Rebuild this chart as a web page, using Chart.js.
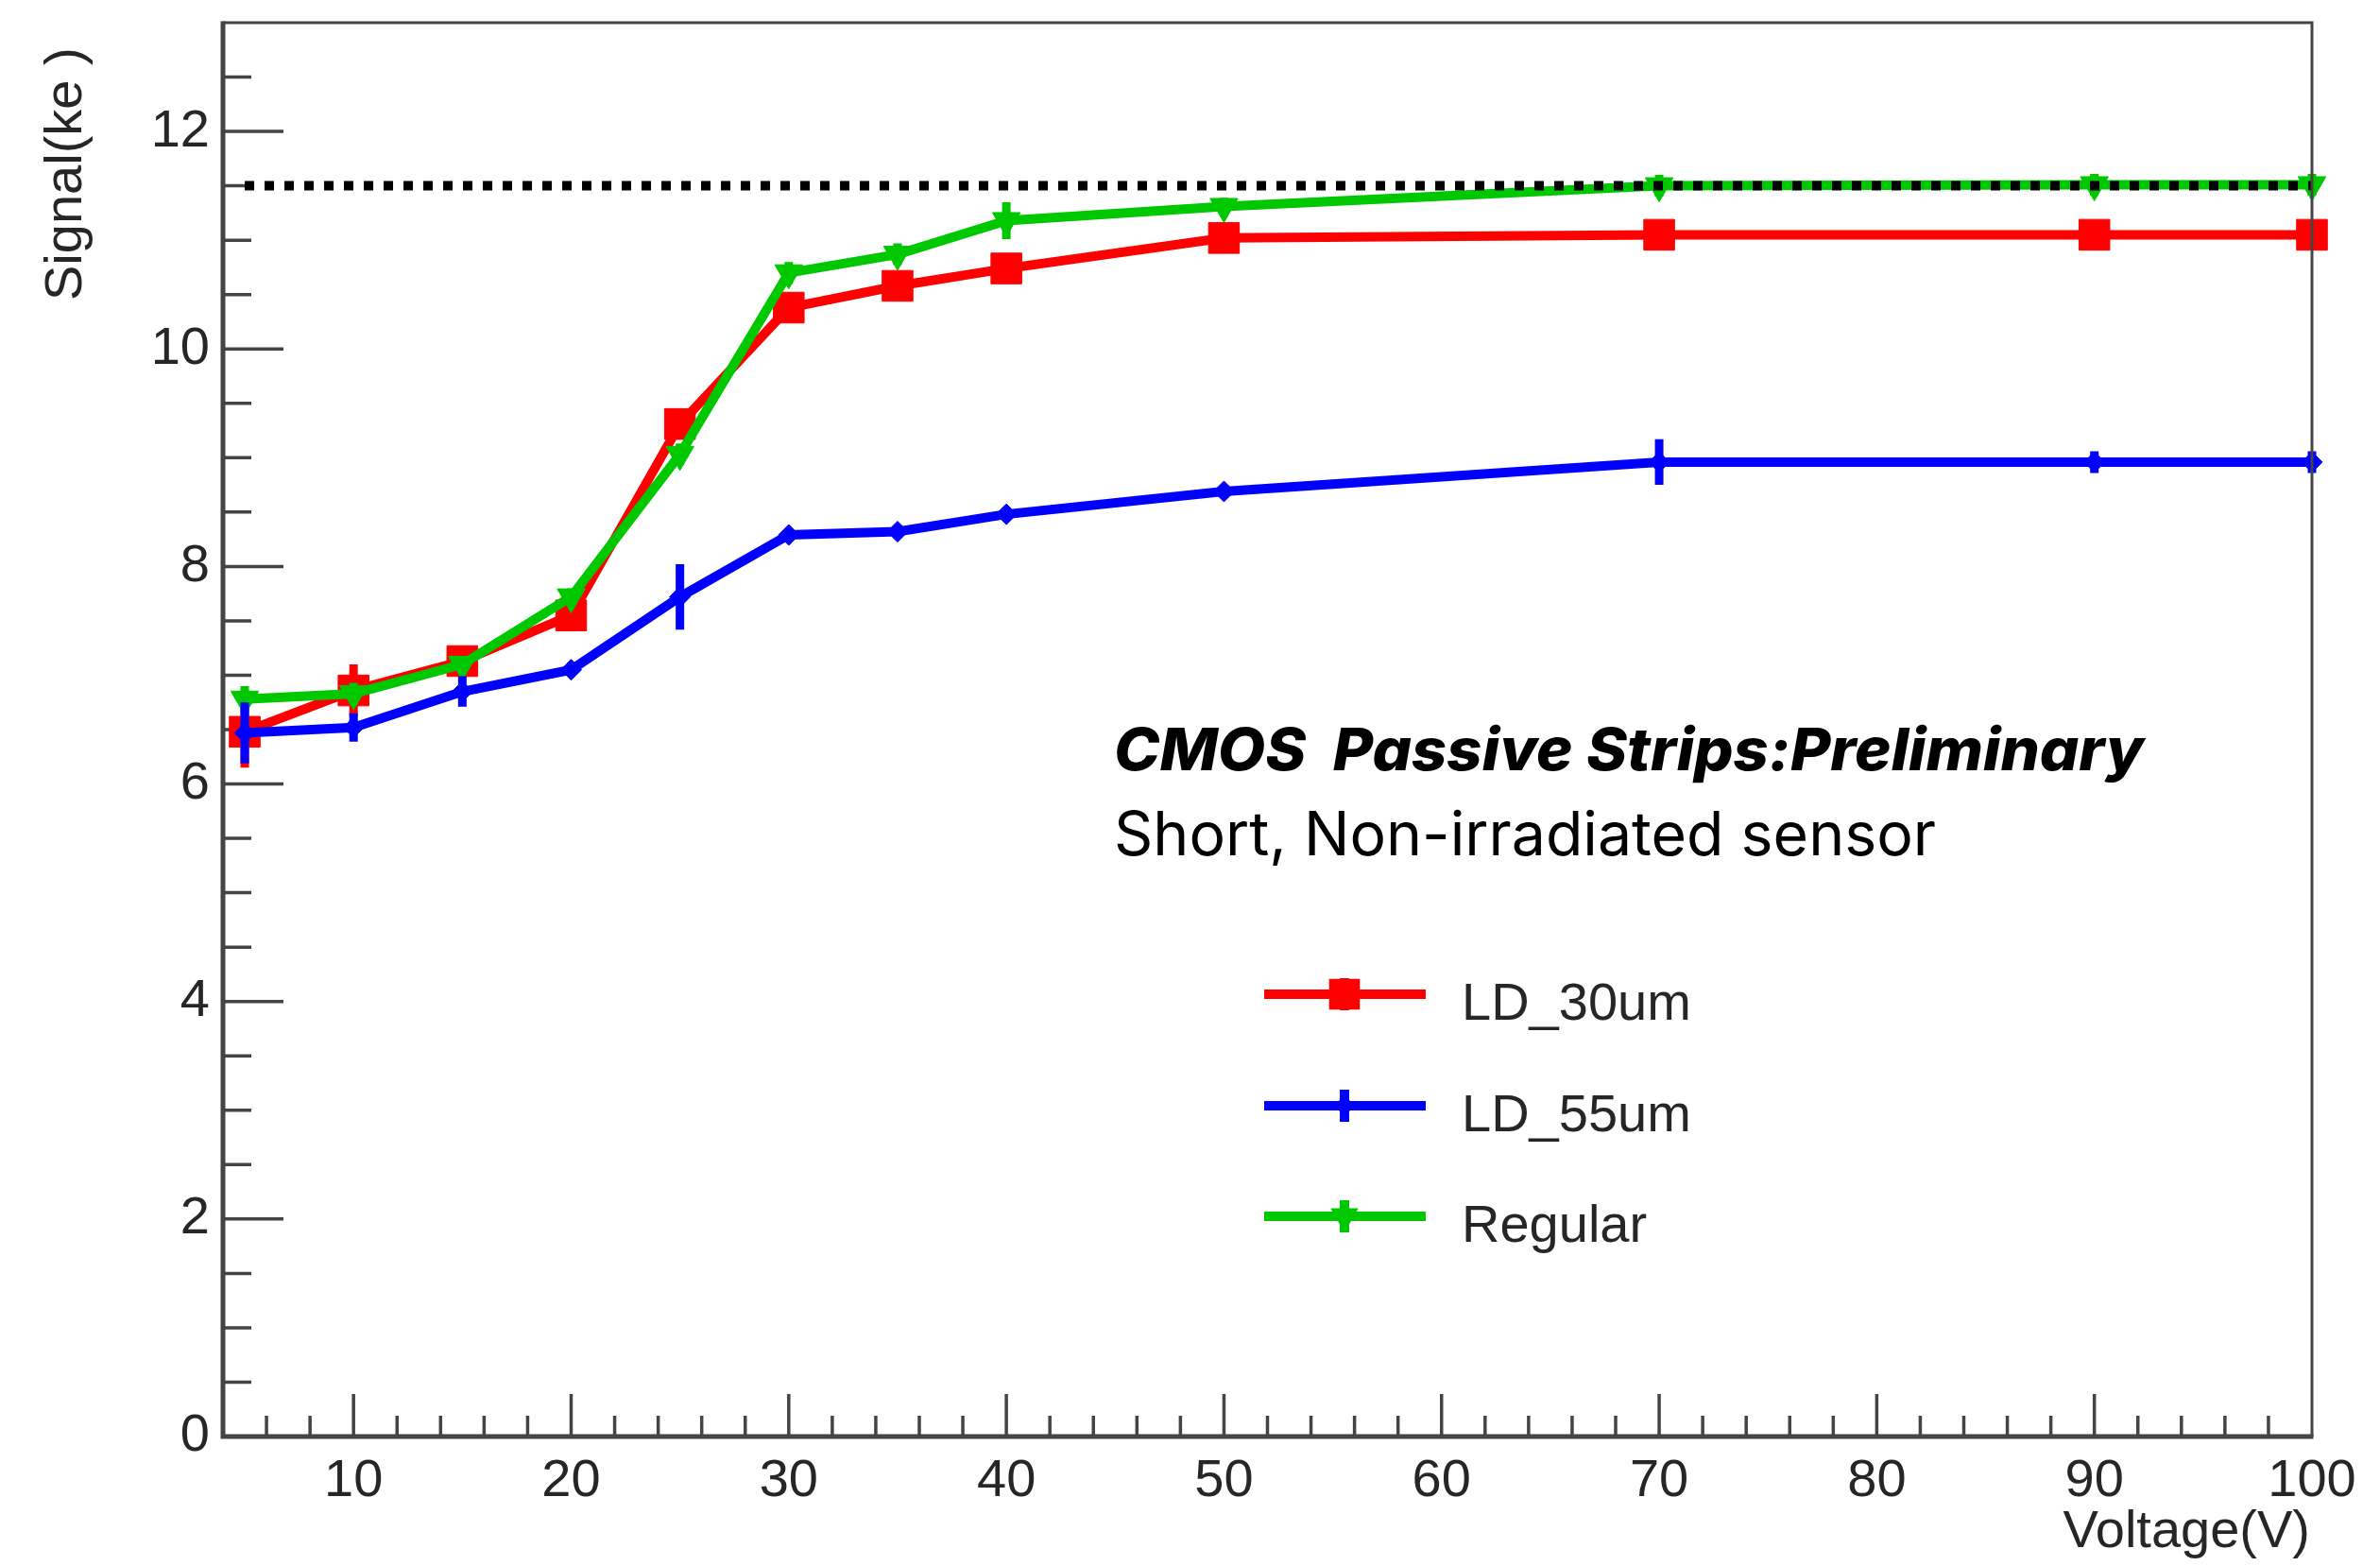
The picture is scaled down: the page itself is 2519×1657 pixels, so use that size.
<!DOCTYPE html>
<html>
<head>
<meta charset="utf-8">
<script src="https://cdn.jsdelivr.net/npm/chart.js@4.4.1/dist/chart.umd.min.js"></script>
<style>
  html, body { margin: 0; padding: 0; background: #fff; }
  #wrap { width: 2519px; height: 1657px; }
</style>
</head>
<body>
<div id="wrap"><canvas id="chart" width="2519" height="1657"></canvas></div>
<script>
// bias voltage (V)
const volts = [5, 10, 15, 20, 25, 30, 35, 40, 50, 70, 90, 100];

// signal (ke-) per sensor type, with vertical errors
const ld30 = [6.48, 6.86, 7.13, 7.55, 9.31, 10.38, 10.58, 10.74, 11.02, 11.05, 11.05, 11.05];
const ld30Err = [0.33, 0.24, 0.08, 0.1, 0.1, 0.07, 0.07, 0.07, 0.07, 0.08, 0.1, 0.08];
const ld55 = [6.47, 6.52, 6.85, 7.05, 7.72, 8.29, 8.32, 8.48, 8.69, 8.96, 8.96, 8.96];
const ld55Err = [0.28, 0.13, 0.14, 0.06, 0.3, 0.06, 0.06, 0.06, 0.06, 0.21, 0.1, 0.1];
const regular = [6.78, 6.83, 7.1, 7.72, 9.03, 10.7, 10.87, 11.18, 11.31, 11.5, 11.51, 11.51];
const regularErr = [0.12, 0.1, 0.07, 0.08, 0.1, 0.1, 0.1, 0.17, 0.08, 0.1, 0.1, 0.1];

// dotted reference level
const refX = [5, 100];
const refY = 11.5;

const seriesNames = ['LD_30um', 'LD_55um', 'Regular'];

const axisColor = '#444';
const textColor = '#262626';
const labelFont = '"Liberation Sans", Arial, Helvetica, sans-serif';

const toPoints = (ys) => volts.map((v, i) => ({ x: v, y: ys[i] }));

const red = {
  label: seriesNames[0], data: toPoints(ld30), errors: ld30Err,
  borderColor: '#ff0000', backgroundColor: '#ff0000',
  pointStyle: 'rect', pointRadius: 23, pointRotation: 0, order: 3
};
const blue = {
  label: seriesNames[1], data: toPoints(ld55), errors: ld55Err,
  borderColor: '#0000ff', backgroundColor: '#0000ff',
  pointStyle: 'rectRot', pointRadius: 11, pointRotation: 0, order: 1
};
const green = {
  label: seriesNames[2], data: toPoints(regular), errors: regularErr,
  borderColor: '#00c800', backgroundColor: '#00c800',
  pointStyle: 'triangle', pointRadius: 17, pointRotation: 180, order: 2
};
const ref = {
  label: 'ref', data: refX.map(x => ({ x: x, y: refY })),
  borderColor: '#000', borderWidth: 10, borderDash: [10, 11],
  borderCapStyle: 'butt', pointRadius: 0, order: 0
};

[red, blue, green].forEach(ds => {
  ds.borderWidth = 10;
  ds.pointBackgroundColor = ds.borderColor;
  ds.pointBorderColor = ds.borderColor;
  ds.pointBorderWidth = 1;
  ds.tension = 0;
  ds.clip = false;
});
ref.clip = false;

function marker(ctx, style, x, y, r, color) {
  ctx.fillStyle = color;
  ctx.beginPath();
  if (style === 'rect') {
    const s = r * Math.SQRT1_2;
    ctx.rect(x - s, y - s, 2 * s, 2 * s);
  } else if (style === 'rectRot') {
    ctx.moveTo(x, y - r); ctx.lineTo(x + r, y); ctx.lineTo(x, y + r); ctx.lineTo(x - r, y);
    ctx.closePath();
  } else {
    ctx.moveTo(x - r * 0.866, y - r / 2); ctx.lineTo(x + r * 0.866, y - r / 2); ctx.lineTo(x, y + r);
    ctx.closePath();
  }
  ctx.fill();
}

function fitText(ctx, text, x, y, width) {
  const w = ctx.measureText(text).width;
  ctx.save();
  ctx.translate(x, y);
  ctx.scale(width / w, 1);
  ctx.fillText(text, 0, 0);
  ctx.restore();
}

// ROOT-like frame with inward ticks, error bars, legend and labels
const rootStyle = {
  id: 'rootStyle',
  beforeDatasetsDraw(chart) {
    const { ctx, chartArea: a, scales: { x, y } } = chart;
    ctx.save();
    ctx.strokeStyle = axisColor;
    ctx.lineWidth = 3.5;
    ctx.beginPath();
    for (let v = 0.5; v < 13; v += 0.5) {
      const py = y.getPixelForValue(v);
      const len = v % 2 === 0 ? 64 : 30;
      ctx.moveTo(a.left, py); ctx.lineTo(a.left + len, py);
    }
    for (let v = 6; v < 100; v += 2) {
      const px = x.getPixelForValue(v);
      const len = v % 10 === 0 ? 45 : 22;
      ctx.moveTo(px, a.bottom); ctx.lineTo(px, a.bottom - len);
    }
    ctx.stroke();
    ctx.restore();
  },
  afterDatasetDraw(chart, args) {
    const ds = chart.data.datasets[args.index];
    if (!ds.errors) return;
    const { ctx, scales: { x, y } } = chart;
    ctx.save();
    ctx.strokeStyle = ds.borderColor;
    ctx.lineWidth = 9;
    ctx.beginPath();
    ds.data.forEach((p, i) => {
      const px = x.getPixelForValue(p.x);
      ctx.moveTo(px, y.getPixelForValue(p.y - ds.errors[i]));
      ctx.lineTo(px, y.getPixelForValue(p.y + ds.errors[i]));
    });
    ctx.stroke();
    ctx.restore();
  },
  afterDatasetsDraw(chart) {
    const { ctx, chartArea: a } = chart;
    ctx.save();
    ctx.strokeStyle = axisColor;
    ctx.lineWidth = 3;
    ctx.beginPath();
    ctx.moveTo(a.left, a.top); ctx.lineTo(a.right, a.top); ctx.lineTo(a.right, a.bottom);
    ctx.stroke();
    ctx.lineWidth = 5;
    ctx.beginPath();
    ctx.moveTo(a.left, a.top - 1.5); ctx.lineTo(a.left, a.bottom); ctx.lineTo(a.right + 1.5, a.bottom);
    ctx.stroke();

    // legend
    const legendRows = [red, blue, green];
    const legendY = [1052, 1170, 1287];
    legendRows.forEach((ds, i) => {
      const ly = legendY[i];
      ctx.strokeStyle = ds.borderColor;
      ctx.lineWidth = 10;
      ctx.beginPath();
      ctx.moveTo(1338, ly); ctx.lineTo(1509, ly);
      ctx.moveTo(1423, ly - 17); ctx.lineTo(1423, ly + 17);
      ctx.stroke();
      marker(ctx, ds.pointStyle, 1423, ly, ds.pointRadius, ds.borderColor);
      ctx.fillStyle = textColor;
      ctx.font = '56px ' + labelFont;
      ctx.textAlign = 'left';
      ctx.textBaseline = 'alphabetic';
      ctx.fillText(ds.label, 1547, ly + 27);
    });

    // axis titles
    ctx.fillStyle = textColor;
    ctx.font = '56px ' + labelFont;
    ctx.textAlign = 'right';
    ctx.fillText('Voltage(V)', 2445, 1637);
    ctx.save();
    ctx.translate(86, 318);
    ctx.rotate(-Math.PI / 2);
    ctx.textAlign = 'left';
    ctx.fillText('Signal(ke )', 0, 0);
    ctx.restore();

    // annotation
    ctx.fillStyle = '#000';
    ctx.textAlign = 'left';
    ctx.font = 'italic 800 62px Inter, "Noto Sans", sans-serif';
    fitText(ctx, 'CMOS  Passive Strips:Preliminary', 1179, 815, 1090);
    ctx.font = '400 64px Inter, "Noto Sans", sans-serif';
    fitText(ctx, 'Short, Non-irradiated sensor', 1179, 905, 870);
    ctx.restore();
  }
};

new Chart(document.getElementById('chart'), {
  type: 'line',
  data: { datasets: [ref, blue, green, red] },
  options: {
    responsive: false,
    animation: false,
    devicePixelRatio: 1,
    layout: { padding: { top: 19, right: 72, left: 0, bottom: 0 } },
    plugins: { legend: { display: false }, tooltip: { enabled: false } },
    scales: {
      x: {
        type: 'linear', min: 4, max: 100,
        grid: { display: false, drawTicks: false },
        border: { display: false },
        ticks: {
          stepSize: 10, includeBounds: false, padding: 14, maxRotation: 0,
          color: textColor, font: { family: labelFont, size: 56 }
        },
        afterFit: (scale) => { scale.height = 137; scale.paddingLeft = 0; scale.paddingRight = 0; }
      },
      y: {
        type: 'linear', min: 0, max: 13,
        grid: { display: false, drawTicks: false },
        border: { display: false },
        ticks: {
          stepSize: 2, includeBounds: false, padding: 14,
          color: textColor, font: { family: labelFont, size: 56 }
        },
        afterFit: (scale) => { scale.width = 236; scale.paddingTop = 0; scale.paddingBottom = 0; }
      }
    }
  },
  plugins: [rootStyle]
});
</script>
</body>
</html>
